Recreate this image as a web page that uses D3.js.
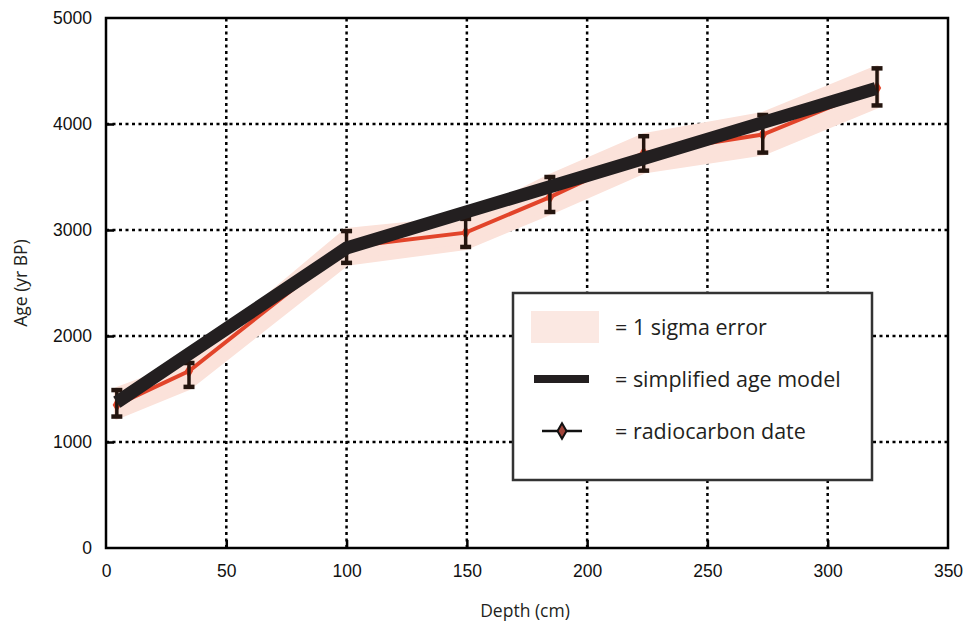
<!DOCTYPE html>
<html><head><meta charset="utf-8">
<script src="https://cdn.jsdelivr.net/npm/d3@7"></script>
<style>body{margin:0;background:#fff}svg{display:block}</style>
</head><body>
<script>
// Radiocarbon dates
const depths = [4.5, 34.5, 100, 149.5, 184.5, 223.5, 273, 320.5];
const ages   = [1350, 1670, 2840, 2975, 3310, 3725, 3900, 4340];
const ageHi  = [1490, 1745, 2990, 3105, 3500, 3885, 4085, 4525];
const ageLo  = [1240, 1520, 2690, 2840, 3170, 3560, 3730, 4175];
// Simplified age model
const modelDepth = [4.5, 100, 320];
const modelAge   = [1375, 2830, 4335];
const xTicks = [0, 50, 100, 150, 200, 250, 300, 350];
const yTicks = [0, 1000, 2000, 3000, 4000, 5000];
const legendLabels = ["= 1 sigma error", "= simplified age model", "= radiocarbon date"];

const W = 975, H = 629;
const svg = d3.select("body").append("svg").attr("width", W).attr("height", H);
const x = d3.scaleLinear().domain([0, 350]).range([106, 948]);
const y = d3.scaleLinear().domain([0, 5000]).range([548, 18]);

// grid
const g = svg.append("g");
g.selectAll(".vg").data(xTicks.slice(1, -1)).join("line")
  .attr("x1", d => x(d)).attr("x2", d => x(d)).attr("y1", y(0)).attr("y2", y(5000))
  .attr("stroke", "#000").attr("stroke-width", 2.5).attr("stroke-dasharray", "3,3.5");
g.selectAll(".hg").data(yTicks.slice(1, -1)).join("line")
  .attr("y1", d => y(d)).attr("y2", d => y(d)).attr("x1", x(0)).attr("x2", x(350))
  .attr("stroke", "#000").attr("stroke-width", 2.5).attr("stroke-dasharray", "3,3.5");

// axes with inward ticks
const tickFont = "'Liberation Sans', Arial, sans-serif";
const xa = svg.append("g").attr("transform", `translate(0,${y(0)})`)
  .call(d3.axisBottom(x).tickValues(xTicks).tickFormat(d3.format("d")).tickSize(-8).tickPadding(17).tickSizeOuter(0));
const ya = svg.append("g").attr("transform", `translate(${x(0)},0)`)
  .call(d3.axisLeft(y).tickValues(yTicks).tickFormat(d3.format("d")).tickSize(-8).tickPadding(14).tickSizeOuter(0));
[xa, ya].forEach(a => {
  a.select(".domain").remove();
  a.selectAll(".tick line").attr("stroke", "#000").attr("stroke-width", 2.5);
  a.selectAll(".tick text").attr("font-family", tickFont).attr("font-size", 17.5).attr("fill", "#111");
});
xa.selectAll(".tick line").attr("opacity", (d,i) => (i===0||i===xTicks.length-1)?0:1);
ya.selectAll(".tick line").attr("opacity", (d,i) => (i===0||i===yTicks.length-1)?0:1);

// frame
svg.append("rect").attr("x", x(0)).attr("y", y(5000)).attr("width", x(350)-x(0)).attr("height", y(0)-y(5000))
  .attr("fill", "none").attr("stroke", "#000").attr("stroke-width", 2.5);

// data rows
const rows = depths.map((d, i) => ({d, a: ages[i], hi: ageHi[i], lo: ageLo[i]}));

// sigma band
svg.append("path").datum(rows)
  .attr("d", d3.area().x(r => x(r.d)).y0(r => y(r.lo)).y1(r => y(r.hi)))
  .attr("fill", "#fbe2da").attr("stroke", "#fbe2da").attr("stroke-width", 6).attr("stroke-linejoin", "round");

// red line
svg.append("path").datum(rows)
  .attr("d", d3.line().x(r => x(r.d)).y(r => y(r.a)))
  .attr("fill", "none").attr("stroke", "#e2442a").attr("stroke-width", 4);

// red markers
svg.selectAll(".mk").data(rows).join("path")
  .attr("d", d3.symbol(d3.symbolDiamond, 60))
  .attr("transform", r => `translate(${x(r.d)},${y(r.a)})`)
  .attr("fill", "#e2442a");

// error bars
const eb = svg.append("g").attr("stroke", "#24150f").attr("stroke-width", 3.5);
eb.selectAll(".v").data(rows).join("line")
  .attr("x1", r => x(r.d)).attr("x2", r => x(r.d)).attr("y1", r => y(r.hi)).attr("y2", r => y(r.lo));
eb.selectAll(".t").data(rows).join("line")
  .attr("x1", r => x(r.d)-5.5).attr("x2", r => x(r.d)+5.5).attr("y1", r => y(r.hi)).attr("y2", r => y(r.hi)).attr("stroke-width", 4.5);
eb.selectAll(".b").data(rows).join("line")
  .attr("x1", r => x(r.d)-5.5).attr("x2", r => x(r.d)+5.5).attr("y1", r => y(r.lo)).attr("y2", r => y(r.lo)).attr("stroke-width", 4.5);

// age model
svg.append("path").datum(modelDepth.map((d, i) => [d, modelAge[i]]))
  .attr("d", d3.line().x(p => x(p[0])).y(p => y(p[1])))
  .attr("fill", "none").attr("stroke", "#231f20").attr("stroke-width", 13).attr("stroke-linejoin", "miter");

// axis titles
const titleFont = "'Open Sans', 'Noto Sans', sans-serif";
svg.append("text").attr("x", 525).attr("y", 617).attr("text-anchor", "middle")
  .attr("font-family", titleFont).attr("font-size", 17.5).attr("fill", "#231f20").text("Depth (cm)");
svg.append("text").attr("transform", "translate(27,283) rotate(-90)").attr("text-anchor", "middle")
  .attr("font-family", titleFont).attr("font-size", 17.5).attr("fill", "#231f20").text("Age (yr BP)");

// legend
const lg = svg.append("g");
lg.append("rect").attr("x", 513).attr("y", 293).attr("width", 359).attr("height", 187)
  .attr("fill", "#fff").attr("stroke", "#333").attr("stroke-width", 2.5);
lg.append("rect").attr("x", 531).attr("y", 311).attr("width", 68).attr("height", 32).attr("fill", "#fbe8e2");
lg.append("line").attr("x1", 534).attr("x2", 589).attr("y1", 379).attr("y2", 379)
  .attr("stroke", "#231f20").attr("stroke-width", 8);
lg.append("line").attr("x1", 542).attr("x2", 582).attr("y1", 431).attr("y2", 431)
  .attr("stroke", "#111").attr("stroke-width", 2.5);
lg.append("path").attr("d", d3.symbol(d3.symbolDiamond, 70)).attr("transform", "translate(562,431)")
  .attr("fill", "#a0443a").attr("stroke", "#111").attr("stroke-width", 2);
lg.selectAll(".lt").data(legendLabels).join("text")
  .attr("x", 615).attr("y", (d, i) => 335 + i * 52)
  .attr("font-family", titleFont).attr("font-size", 21.5).attr("fill", "#231f20").text(d => d);
</script>
</body></html>
